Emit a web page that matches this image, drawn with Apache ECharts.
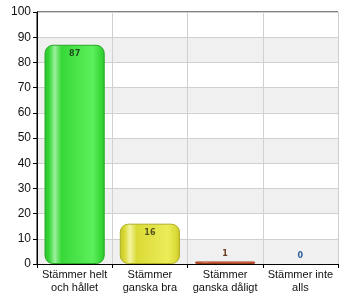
<!DOCTYPE html>
<html>
<head>
<meta charset="utf-8">
<script src="https://cdn.jsdelivr.net/npm/echarts@6/dist/echarts.min.js"></script>
<style>
html,body{margin:0;padding:0;background:#fff;}
#chart{width:350px;height:300px;}
</style>
</head>
<body>
<div id="chart"></div>
<script>
const categories = ['Stämmer helt\noch hållet', 'Stämmer\nganska bra', 'Stämmer\nganska dåligt', 'Stämmer inte\nalls'];
const values = [87, 16, 1, 0];
const yTicks = [0, 10, 20, 30, 40, 50, 60, 70, 80, 90, 100];

// per-bar palette: [edge, highlight, body, right sheen, border, label]
const palettes = [
  ['#2cc02c', '#9cf09c', '#38d838', '#5cf05c', '#2aa82a', '#1d4d1d'],
  ['#c4c42a', '#f4f4a0', '#dada36', '#ecec5a', '#b0b024', '#55551a'],
  ['#c85030', '#ffb090', '#e06040', '#f08060', '#a04020', '#6a3a20'],
  ['#3366aa', '#99bbee', '#4477bb', '#5588cc', '#224488', '#2f5f9f']
];

function grad(p) {
  return new echarts.graphic.LinearGradient(0, 0, 1, 0, [
    { offset: 0, color: p[0] },
    { offset: 0.08, color: p[2] },
    { offset: 0.17, color: p[1] },
    { offset: 0.28, color: p[2] },
    { offset: 0.8, color: p[3] },
    { offset: 0.94, color: p[2] },
    { offset: 1, color: p[0] }
  ]);
}

const chart = echarts.init(document.getElementById('chart'));
chart.setOption({
  animation: false,
  grid: { left: 37, right: 12, top: 12, bottom: 36, show: true, borderColor: '#000', borderWidth: 1 },
  xAxis: {
    type: 'category',
    data: categories,
    axisLine: { lineStyle: { color: '#000' } },
    axisTick: { show: true, alignWithLabel: false, length: 4, lineStyle: { color: '#000' } },
    axisLabel: { color: '#111', fontFamily: 'Liberation Sans, Arial', fontSize: 11, lineHeight: 13, margin: 4, interval: 0 },
    splitLine: { show: true, lineStyle: { color: '#d0d0d0' } }
  },
  yAxis: {
    type: 'value',
    min: yTicks[0],
    max: yTicks[yTicks.length - 1],
    interval: 10,
    axisLine: { show: true, lineStyle: { color: '#000' } },
    axisTick: { show: true, length: 4, lineStyle: { color: '#000' } },
    axisLabel: { color: '#111', fontFamily: 'Liberation Sans, Arial', fontSize: 12, margin: 6 },
    splitLine: { lineStyle: { color: '#d0d0d0' } },
    splitArea: { show: true, areaStyle: { color: ['#f0f0f0', '#ffffff'] } }
  },
  series: [{
    type: 'bar',
    barWidth: '80%',
    data: values.map((v, i) => ({
      value: v,
      itemStyle: {
        color: grad(palettes[i]),
        borderColor: palettes[i][4],
        borderWidth: v > 0 ? 1 : 0,
        borderRadius: 8
      },
      label: {
        show: true,
        position: v > 5 ? 'insideTop' : 'top',
        distance: v > 5 ? 5 : 4,
        color: palettes[i][5],
        fontFamily: 'DejaVu Sans',
        fontWeight: 'bold',
        fontSize: 8
      }
    }))
  }]
});
</script>
</body>
</html>
